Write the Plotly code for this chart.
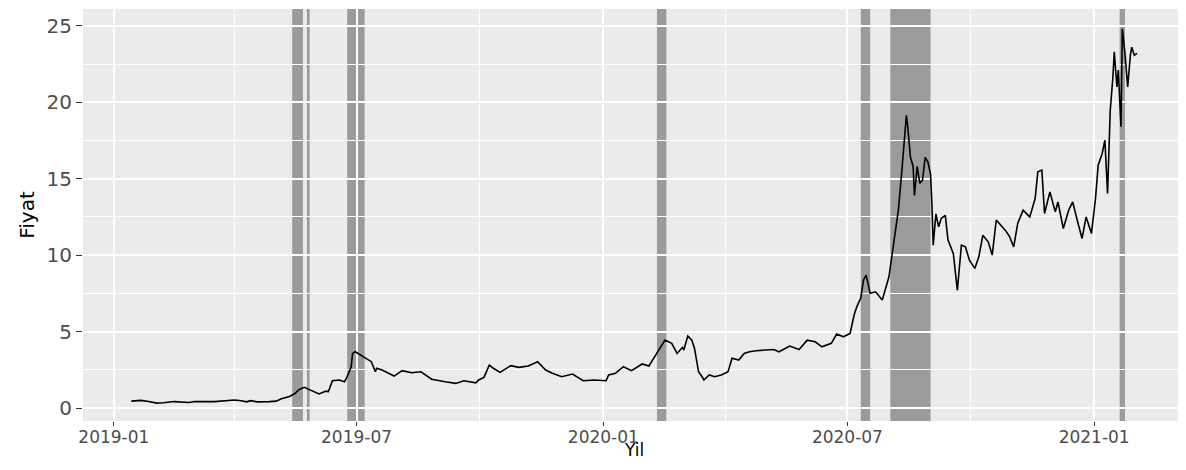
import plotly.graph_objects as go

# Price series
dates = [
    "2019-01-14", "2019-01-21", "2019-01-27", "2019-02-02", "2019-02-07", "2019-02-15",
    "2019-02-26", "2019-03-02", "2019-03-17", "2019-04-01", "2019-04-06", "2019-04-10",
    "2019-04-13", "2019-04-18", "2019-04-27", "2019-05-02", "2019-05-06", "2019-05-12",
    "2019-05-16", "2019-05-19", "2019-05-23", "2019-05-27", "2019-05-30", "2019-06-03",
    "2019-06-08", "2019-06-10", "2019-06-13", "2019-06-18", "2019-06-22", "2019-06-24",
    "2019-06-27", "2019-06-28", "2019-06-30", "2019-07-03", "2019-07-08", "2019-07-12",
    "2019-07-15", "2019-07-16", "2019-07-20", "2019-07-29", "2019-08-04", "2019-08-11",
    "2019-08-18", "2019-08-26", "2019-09-05", "2019-09-13", "2019-09-19", "2019-09-28",
    "2019-09-30", "2019-10-04", "2019-10-08", "2019-10-11", "2019-10-16", "2019-10-24",
    "2019-10-30", "2019-11-06", "2019-11-13", "2019-11-19", "2019-11-24", "2019-12-01",
    "2019-12-09", "2019-12-17", "2019-12-25", "2020-01-03", "2020-01-05", "2020-01-10",
    "2020-01-16", "2020-01-22", "2020-01-30", "2020-02-04", "2020-02-09", "2020-02-13",
    "2020-02-16", "2020-02-21", "2020-02-25", "2020-02-29", "2020-03-01", "2020-03-04",
    "2020-03-07", "2020-03-09", "2020-03-12", "2020-03-15", "2020-03-16", "2020-03-20",
    "2020-03-24", "2020-03-29", "2020-04-03", "2020-04-06", "2020-04-11", "2020-04-15",
    "2020-04-19", "2020-04-24", "2020-05-01", "2020-05-07", "2020-05-11", "2020-05-19",
    "2020-05-26", "2020-06-01", "2020-06-07", "2020-06-12", "2020-06-19", "2020-06-23",
    "2020-06-28", "2020-07-03", "2020-07-06", "2020-07-08", "2020-07-11", "2020-07-13",
    "2020-07-15", "2020-07-18", "2020-07-22", "2020-07-27", "2020-08-01", "2020-08-03",
    "2020-08-08", "2020-08-10", "2020-08-12", "2020-08-14", "2020-08-15", "2020-08-17",
    "2020-08-19", "2020-08-20", "2020-08-22", "2020-08-24", "2020-08-26", "2020-08-28",
    "2020-08-30", "2020-09-01", "2020-09-02", "2020-09-03", "2020-09-05", "2020-09-07",
    "2020-09-09", "2020-09-12", "2020-09-14", "2020-09-18", "2020-09-21", "2020-09-24",
    "2020-09-27", "2020-09-30", "2020-10-04", "2020-10-07", "2020-10-10", "2020-10-14",
    "2020-10-17", "2020-10-20", "2020-10-27", "2020-10-30", "2020-11-02", "2020-11-05",
    "2020-11-09", "2020-11-14", "2020-11-18", "2020-11-20", "2020-11-23", "2020-11-25",
    "2020-11-29", "2020-12-03", "2020-12-05", "2020-12-09", "2020-12-13", "2020-12-16",
    "2020-12-20", "2020-12-23", "2020-12-26", "2020-12-30", "2021-01-02", "2021-01-04",
    "2021-01-07", "2021-01-09", "2021-01-11", "2021-01-13", "2021-01-15", "2021-01-16",
    "2021-01-18", "2021-01-19", "2021-01-21", "2021-01-22", "2021-01-24", "2021-01-25",
    "2021-01-26", "2021-01-28", "2021-01-29", "2021-01-31", "2021-02-02",
]
prices = [
    0.45, 0.50, 0.42, 0.32, 0.34, 0.42,
    0.36, 0.42, 0.42, 0.52, 0.48, 0.40,
    0.48, 0.40, 0.42, 0.45, 0.60, 0.75,
    0.95, 1.20, 1.35, 1.18, 1.10, 0.92,
    1.10, 1.07, 1.78, 1.83, 1.72, 2.05,
    2.70, 3.57, 3.68, 3.53, 3.25, 3.03,
    2.37, 2.60, 2.48, 2.09, 2.44, 2.31,
    2.37, 1.88, 1.72, 1.61, 1.78, 1.65,
    1.83, 2.00, 2.81, 2.60, 2.33, 2.77,
    2.66, 2.75, 3.03, 2.48, 2.27, 2.05,
    2.22, 1.78, 1.83, 1.78, 2.16, 2.27,
    2.70, 2.44, 2.88, 2.75, 3.46, 4.00,
    4.44, 4.23, 3.57, 3.97, 3.79, 4.71,
    4.44, 3.90, 2.37, 2.00, 1.83, 2.16,
    2.05, 2.16, 2.37, 3.25, 3.14, 3.57,
    3.68, 3.75, 3.79, 3.83, 3.68, 4.05,
    3.83, 4.44, 4.33, 4.00, 4.23, 4.84,
    4.66, 4.88, 6.08, 6.62, 7.20, 8.37,
    8.69, 7.50, 7.60, 7.06, 8.58, 9.89,
    12.94, 14.90, 17.30, 19.15, 18.40, 16.40,
    15.80, 13.90, 15.80, 14.70, 14.90, 16.40,
    16.10, 15.30, 13.40, 10.65, 12.70, 11.85,
    12.40, 12.60, 11.00, 10.10, 7.70, 10.65,
    10.54, 9.67, 9.13, 9.89, 11.30, 10.87,
    10.00, 12.30, 11.60, 11.20, 10.54, 12.07,
    12.94, 12.50, 13.70, 15.45, 15.56, 12.72,
    14.14, 12.83, 13.48, 11.74, 12.94, 13.48,
    12.07, 11.09, 12.50, 11.42, 13.70, 15.88,
    16.65, 17.52, 14.03, 19.48, 21.65, 23.30,
    21.00, 22.10, 18.40, 24.80, 23.20, 22.10,
    21.00, 23.07, 23.60, 23.07, 23.20,
]

# Highlighted periods
band_starts = ["2019-05-14", "2019-05-25", "2019-06-24", "2020-02-10", "2020-07-11", "2020-08-02", "2021-01-20"]
band_ends   = ["2019-05-22", "2019-05-27", "2019-07-07", "2020-02-17", "2020-07-18", "2020-09-01", "2021-01-24"]

x_title = "Yil"
y_title = "Fiyat"

fig = go.Figure()
fig.add_trace(go.Scatter(x=dates, y=prices, mode="lines",
                         line=dict(color="black", width=1.6), showlegend=False,
                         hoverinfo="x+y"))

for s, e in zip(band_starts, band_ends):
    fig.add_shape(type="rect", xref="x", yref="paper", x0=s, x1=e, y0=0, y1=1,
                  fillcolor="rgba(128,128,128,0.75)", line=dict(width=0), layer="between")

# x-axis title placed as an annotation below the tick labels
fig.add_annotation(text=x_title, xref="paper", yref="paper", x=0.5, y=0,
                   xanchor="center", yanchor="bottom", yshift=-41, showarrow=False,
                   font=dict(family="DejaVu Sans", size=17, color="black"))

tick_font = dict(family="DejaVu Sans", size=17, color="#4d4d4d")
fig.update_layout(
    width=1178, height=454,
    margin=dict(l=75, r=2, t=1, b=41, autoexpand=False),
    paper_bgcolor="white",
    plot_bgcolor="#ebebeb",
    showlegend=False,
)
fig.update_xaxes(
    type="date",
    range=["2018-12-09", "2021-03-09"],
    tick0="2019-01-01", dtick="M6", tickformat="%Y-%m",
    ticks="outside", ticklen=4, tickwidth=1.2, tickcolor="#333333",
    tickfont=tick_font, ticklabelstandoff=-3,
    showgrid=True, gridcolor="white", gridwidth=1.8,
    minor=dict(dtick="M3", tick0="2019-01-01", showgrid=True, gridcolor="white", gridwidth=0.9, ticks=""),
    zeroline=False, showline=False, automargin=False,
)
fig.update_yaxes(
    range=[-0.85, 26.1],
    tick0=0, dtick=5,
    ticks="outside", ticklen=6, tickwidth=1.2, tickcolor="#333333",
    tickfont=dict(family="DejaVu Sans", size=20, color="#4d4d4d"),
    showgrid=True, gridcolor="white", gridwidth=1.8,
    minor=dict(dtick=2.5, tick0=0, showgrid=True, gridcolor="white", gridwidth=0.9, ticks=""),
    zeroline=False, showline=False, automargin=False,
    title=dict(text=y_title, font=dict(family="DejaVu Sans", size=20, color="black"), standoff=6),
)

fig.write_html("out.html")
